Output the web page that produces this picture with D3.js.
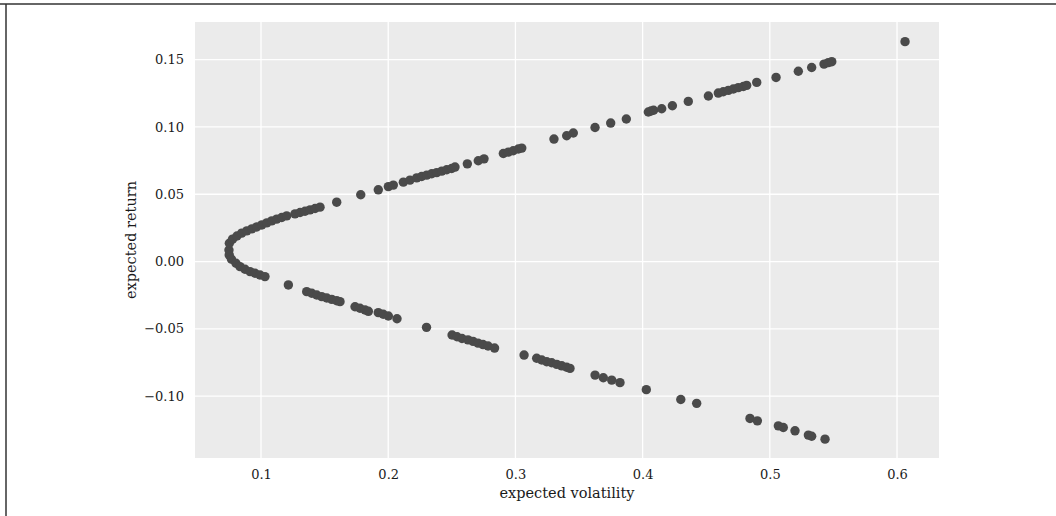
<!DOCTYPE html>
<html lang="en">
<head>
	<meta charset="utf-8">
	<title>Expected return vs volatility</title>
	<script src="https://cdn.jsdelivr.net/npm/d3@7"></script>
	<style>
		body { margin: 0; background: #fff; }
		svg text { font-family: "DejaVu Serif", serif; fill: #1a1a1a; }
	</style>
</head>
<body>
	<script>

	// portfolios: [expected volatility, expected return]
	var lowerBranch = [
		[0.0748, 0.0086], [0.0750, 0.0049], [0.0768, 0.0017], [0.0803, -0.0013], [0.0835, -0.0038],
		[0.0874, -0.0057], [0.0914, -0.0075], [0.0953, -0.0087], [0.0992, -0.0100], [0.1031, -0.0112],
		[0.1215, -0.0174], [0.1359, -0.0224], [0.1399, -0.0236], [0.1438, -0.0249], [0.1477, -0.0261],
		[0.1517, -0.0271], [0.1556, -0.0281], [0.1595, -0.0291], [0.1621, -0.0298], [0.1739, -0.0336],
		[0.1778, -0.0347], [0.1818, -0.0360], [0.1844, -0.0370], [0.1922, -0.0380], [0.1961, -0.0392],
		[0.2001, -0.0405], [0.2069, -0.0425], [0.2301, -0.0489], [0.2502, -0.0546], [0.2541, -0.0559],
		[0.2580, -0.0572], [0.2627, -0.0582], [0.2667, -0.0593], [0.2706, -0.0606], [0.2745, -0.0617],
		[0.2785, -0.0628], [0.2836, -0.0643], [0.3068, -0.0695], [0.3167, -0.0719], [0.3207, -0.0732],
		[0.3246, -0.0745], [0.3285, -0.0752], [0.3325, -0.0764], [0.3364, -0.0775], [0.3403, -0.0786],
		[0.3429, -0.0794], [0.3626, -0.0844], [0.3691, -0.0864], [0.3757, -0.0881], [0.3822, -0.0900],
		[0.4029, -0.0952], [0.4300, -0.1025], [0.4425, -0.1054], [0.4844, -0.1166], [0.4902, -0.1184],
		[0.5067, -0.1221], [0.5106, -0.1233], [0.5198, -0.1258], [0.5303, -0.1290], [0.5329, -0.1298],
		[0.5434, -0.1320]
	];

	var upperBranch = [
		[0.0751, 0.0136], [0.0776, 0.0166], [0.0811, 0.0190], [0.0848, 0.0211], [0.0888, 0.0228],
		[0.0927, 0.0243], [0.0966, 0.0257], [0.1006, 0.0272], [0.1045, 0.0287], [0.1084, 0.0302],
		[0.1123, 0.0315], [0.1163, 0.0327], [0.1202, 0.0339], [0.1267, 0.0354], [0.1307, 0.0364],
		[0.1346, 0.0374], [0.1385, 0.0384], [0.1425, 0.0394], [0.1464, 0.0404], [0.1595, 0.0441],
		[0.1784, 0.0496], [0.1922, 0.0533], [0.2001, 0.0557], [0.2040, 0.0568], [0.2119, 0.0590],
		[0.2171, 0.0605], [0.2224, 0.0622], [0.2263, 0.0632], [0.2303, 0.0642], [0.2342, 0.0652],
		[0.2381, 0.0661], [0.2421, 0.0672], [0.2460, 0.0682], [0.2499, 0.0691], [0.2525, 0.0702],
		[0.2622, 0.0726], [0.2708, 0.0749], [0.2753, 0.0763], [0.2905, 0.0803], [0.2944, 0.0813],
		[0.2983, 0.0823], [0.3023, 0.0836], [0.3050, 0.0843], [0.3303, 0.0910], [0.3403, 0.0935],
		[0.3455, 0.0955], [0.3626, 0.0996], [0.3749, 0.1029], [0.3872, 0.1059], [0.4045, 0.1111],
		[0.4066, 0.1119], [0.4086, 0.1124], [0.4150, 0.1135], [0.4234, 0.1158], [0.4359, 0.1190],
		[0.4517, 0.1230], [0.4595, 0.1252], [0.4634, 0.1262], [0.4674, 0.1272], [0.4713, 0.1282],
		[0.4752, 0.1292], [0.4792, 0.1301], [0.4818, 0.1309], [0.4897, 0.1331], [0.5049, 0.1368],
		[0.5224, 0.1414], [0.5329, 0.1442], [0.5426, 0.1467], [0.5460, 0.1478], [0.5487, 0.1485],
		[0.6063, 0.1634]
	];

	var xTicks = [0.1, 0.2, 0.3, 0.4, 0.5, 0.6];
	var yTicks = [-0.10, -0.05, 0.00, 0.05, 0.10, 0.15];
	var xDomain = [0.0481, 0.633];
	var yDomain = [-0.146, 0.178];

	var width = 1056, height = 516;
	var margin = {top: 22, right: 117, bottom: 58, left: 195};

	var svg = d3.select("body").append("svg")
		.attr("width", width)
		.attr("height", height);

	// page frame (top and left edge only)
	svg.append("line").attr("x1", 0).attr("x2", width).attr("y1", 4).attr("y2", 4)
		.attr("stroke", "#333").attr("stroke-width", 1.5);
	svg.append("line").attr("x1", 6).attr("x2", 6).attr("y1", 4).attr("y2", height)
		.attr("stroke", "#333").attr("stroke-width", 1.5);

	var x = d3.scaleLinear().domain(xDomain).range([margin.left, width - margin.right]);
	var y = d3.scaleLinear().domain(yDomain).range([height - margin.bottom, margin.top]);

	// grey panel
	svg.append("rect")
		.attr("x", x.range()[0])
		.attr("y", y.range()[1])
		.attr("width", x.range()[1] - x.range()[0])
		.attr("height", y.range()[0] - y.range()[1])
		.attr("fill", "#ebebeb");

	// grid
	svg.append("g").selectAll("line").data(xTicks).enter().append("line")
		.attr("x1", function(d) {return x(d);})
		.attr("x2", function(d) {return x(d);})
		.attr("y1", y.range()[1])
		.attr("y2", y.range()[0])
		.attr("stroke", "#fff").attr("stroke-width", 1.3);

	svg.append("g").selectAll("line").data(yTicks).enter().append("line")
		.attr("x1", x.range()[0])
		.attr("x2", x.range()[1])
		.attr("y1", function(d) {return y(d);})
		.attr("y2", function(d) {return y(d);})
		.attr("stroke", "#fff").attr("stroke-width", 1.3);

	// axes
	var xAxis = svg.append("g")
		.attr("transform", "translate(0," + (y.range()[0] + 2) + ")")
		.call(d3.axisBottom(x).tickValues(xTicks).tickFormat(d3.format(".1f")).tickSize(0).tickPadding(10));

	var yAxis = svg.append("g")
		.attr("transform", "translate(" + (x.range()[0] - 2) + ",0)")
		.call(d3.axisLeft(y).tickValues(yTicks).tickFormat(d3.format(".2f")).tickSize(0).tickPadding(9));

	[xAxis, yAxis].forEach(function(a) {
		a.select(".domain").remove();
		a.selectAll("text").attr("font-size", 13).attr("fill", "#1a1a1a")
			.attr("font-family", "'DejaVu Serif', serif");
	});

	svg.append("text")
		.attr("x", (x.range()[0] + x.range()[1]) / 2)
		.attr("y", 498)
		.attr("text-anchor", "middle")
		.attr("font-size", 14.5)
		.text("expected volatility");

	svg.append("text")
		.attr("transform", "translate(136," + ((y.range()[0] + y.range()[1]) / 2) + ") rotate(-90)")
		.attr("text-anchor", "middle")
		.attr("font-size", 14.5)
		.text("expected return");

	// points
	var points = lowerBranch.concat(upperBranch);

	svg.append("g").selectAll("circle").data(points).enter().append("circle")
		.attr("cx", function(d) {return x(d[0]);})
		.attr("cy", function(d) {return y(d[1]);})
		.attr("r", 4.7)
		.attr("fill", "#4a4a4a");

	</script>
</body>
</html>
